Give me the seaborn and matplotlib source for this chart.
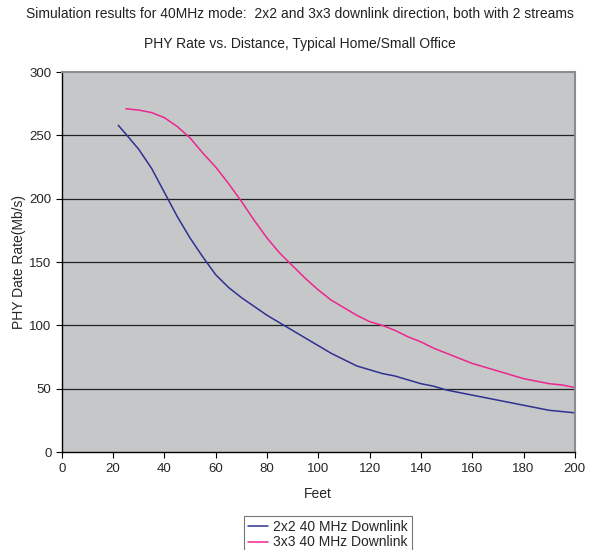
import pandas as pd
import matplotlib
matplotlib.use("Agg")
import matplotlib.pyplot as plt
import seaborn as sns

# distances (feet) and PHY rates (Mb/s)
feet_2x2 = [22, 25, 30, 35, 40, 45, 50, 55, 60, 65, 70, 75, 80, 85, 90, 95, 100,
            105, 110, 115, 120, 125, 130, 135, 140, 145, 150, 155, 160, 165, 170,
            175, 180, 185, 190, 195, 200]
rate_2x2 = [258, 251, 239, 224, 205, 186, 169, 154, 140, 130, 122, 115, 108, 102,
            96, 90, 84, 78, 73, 68, 65, 62, 60, 57, 54, 52, 49, 47, 45, 43, 41,
            39, 37, 35, 33, 32, 31]

feet_3x3 = [25, 30, 35, 40, 45, 50, 55, 60, 65, 70, 75, 80, 85, 90, 95, 100, 105,
            110, 115, 120, 125, 130, 135, 140, 145, 150, 155, 160, 165, 170, 175,
            180, 185, 190, 195, 200]
rate_3x3 = [271, 270, 268, 264, 257, 248, 236, 225, 212, 198, 183, 169, 157, 147,
            137, 128, 120, 114, 108, 103, 100, 96, 91, 87, 82, 78, 74, 70, 67, 64,
            61, 58, 56, 54, 53, 51]

series_names = ["2x2 40 MHz Downlink", "3x3 40 MHz Downlink"]
colors = ["#2E3192", "#EC268F"]

df = pd.concat([
    pd.DataFrame({"Feet": feet_2x2, "Rate": rate_2x2, "Series": series_names[0]}),
    pd.DataFrame({"Feet": feet_3x3, "Rate": rate_3x3, "Series": series_names[1]}),
])

sns.set_style("white")
plt.rcParams["font.family"] = ["Liberation Sans", "DejaVu Sans"]

fig = plt.figure(figsize=(6, 5.5), dpi=100)
ax = fig.add_axes([0.103, 0.178, 0.855, 0.691])
ax.set_facecolor("#C6C7C9")

sns.lineplot(data=df, x="Feet", y="Rate", hue="Series", palette=colors,
             linewidth=1.1, ax=ax, legend=False)

ax.set_xlim(0, 200)
ax.set_ylim(0, 300)
ax.set_xticks(range(0, 201, 20))
ax.set_yticks(range(0, 301, 50))
for yv in range(50, 300, 50):
    ax.axhline(yv, color="#222222", linewidth=0.9, zorder=1)

for s in ["top", "right"]:
    ax.spines[s].set_color("#8C8C8C")
    ax.spines[s].set_linewidth(1.5)
for s in ["left", "bottom"]:
    ax.spines[s].set_color("black")
    ax.spines[s].set_linewidth(1.0)

ax.tick_params(axis="both", direction="out", length=4, width=0.8,
               labelsize=9.5, color="black", bottom=True, left=True)
ax.set_xlabel("Feet", fontsize=10, labelpad=9)
ax.set_ylabel("PHY Date Rate(Mb/s)", fontsize=10, labelpad=2)

fig.text(0.5, 0.975, "Simulation results for 40MHz mode:  2x2 and 3x3 downlink direction, both with 2 streams",
         ha="center", va="center", fontsize=10, color="#222222")
fig.text(0.5, 0.92, "PHY Rate vs. Distance, Typical Home/Small Office",
         ha="center", va="center", fontsize=10, color="#222222")

handles = [plt.Line2D([], [], color=c, linewidth=1.1) for c in colors]
leg = fig.legend(handles, series_names, loc="upper center",
                 bbox_to_anchor=(0.546, 0.062), fontsize=10, frameon=True,
                 fancybox=False, handlelength=1.45, handletextpad=0.35,
                 borderpad=0.3, labelspacing=0.1, borderaxespad=0)
leg.get_frame().set_edgecolor("#555555")
leg.get_frame().set_linewidth(0.8)

fig.savefig("out.png", dpi=100)
